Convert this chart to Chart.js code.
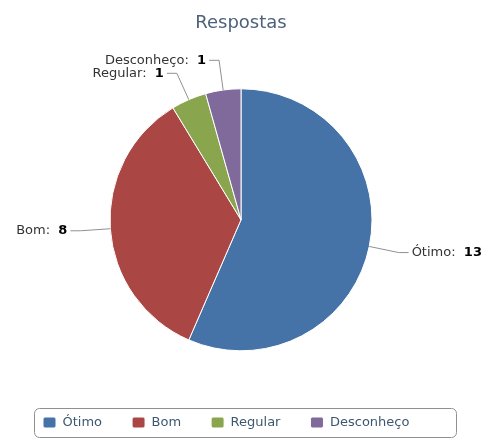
<!DOCTYPE html>
<html>
<head>
<meta charset="utf-8">
<script src="https://cdn.jsdelivr.net/npm/chart.js@4.4.0/dist/chart.umd.min.js"></script>
<style>
  html, body { margin: 0; padding: 0; background: #fff; }
  #wrap { width: 488px; height: 438px; position: relative; }
</style>
</head>
<body>
<div id="wrap"><canvas id="chart"></canvas></div>
<script>
// chart data
const categories = ['Ótimo', 'Bom', 'Regular', 'Desconheço']
const answers = [13, 8, 1, 1]
const sliceColors = ['#4572A7', '#AA4643', '#89A54E', '#80699B']

const FONT = 'DejaVu Sans'

// labels outside the pie with a connector line
const pieLabels = {
    id: 'pieLabels',
    afterDatasetsDraw(chart) {
        const ctx = chart.ctx
        const meta = chart.getDatasetMeta(0)
        const items = meta.data.map((arc, i) => {
            const p = arc.getProps(['x', 'y', 'startAngle', 'endAngle', 'outerRadius'], true)
            const mid = (p.startAngle + p.endAngle) / 2
            const cos = Math.cos(mid)
            const sin = Math.sin(mid)
            return {
                i, left: cos < 0,
                ex: p.x + cos * p.outerRadius, ey: p.y + sin * p.outerRadius,
                bx: p.x + cos * (p.outerRadius + 30), by: p.y + sin * (p.outerRadius + 30)
            }
        })

        // keep labels on the same side from sitting on top of each other
        const sides = [true, false]
        sides.forEach(side => {
            const list = items.filter(it => it.left === side).sort((a, b) => a.by - b.by)
            for (let k = 1; k < list.length; k++) {
                if (list[k].by - list[k - 1].by < 13) list[k].by = list[k - 1].by + 13
            }
        })

        ctx.save()
        items.forEach(it => {
            const dir = it.left ? -1 : 1
            ctx.strokeStyle = '#909090'
            ctx.lineWidth = 1
            ctx.beginPath()
            ctx.moveTo(it.ex, it.ey)
            ctx.lineTo(it.bx, it.by)
            ctx.lineTo(it.bx + dir * 10, it.by)
            ctx.stroke()

            const name = categories[it.i] + ':  '
            const val = String(answers[it.i])
            ctx.textBaseline = 'middle'
            ctx.font = `13px "${FONT}"`
            const nameW = ctx.measureText(name).width
            ctx.font = `bold 13px "${FONT}"`
            const valW = ctx.measureText(val).width
            let tx = it.bx + dir * 13
            if (it.left) tx -= nameW + valW
            ctx.textAlign = 'left'
            ctx.fillStyle = '#333'
            ctx.font = `13px "${FONT}"`
            ctx.fillText(name, tx, it.by)
            ctx.fillStyle = '#000'
            ctx.font = `bold 13px "${FONT}"`
            ctx.fillText(val, tx + nameW, it.by)
        })
        ctx.restore()
    }
}

// rounded frame around the legend
const legendFrame = {
    id: 'legendFrame',
    afterDraw(chart) {
        const hb = chart.legend.legendHitBoxes
        if (!hb || !hb.length) return
        const last = hb[hb.length - 1]
        const x0 = Math.round(hb[0].left - 9) + 0.5
        const x1 = Math.round(last.left + last.width + 47) + 0.5
        const y0 = Math.round(hb[0].top - 8) + 0.5
        const y1 = Math.round(hb[0].top + hb[0].height + 8) + 0.5
        const ctx = chart.ctx
        ctx.save()
        ctx.strokeStyle = '#909090'
        ctx.lineWidth = 1
        ctx.beginPath()
        ctx.roundRect(x0, y0, x1 - x0, y1 - y0, 5)
        ctx.stroke()
        ctx.restore()
    }
}

const ctx = document.getElementById('chart').getContext('2d')

new Chart(ctx, {
    type: 'pie',
    data: {
        labels: categories,
        datasets: [{
            data: answers,
            backgroundColor: sliceColors,
            borderColor: '#ffffff',
            borderWidth: 1
        }]
    },
    options: {
        responsive: true,
        maintainAspectRatio: false,
        animation: false,
        radius: 131,
        layout: {
            padding: { top: 0, bottom: -1, left: 13, right: 19 }
        },
        plugins: {
            title: {
                display: true,
                text: 'Respostas',
                color: '#4d6278',
                font: { family: FONT, size: 18, weight: 'normal' },
                padding: { top: 13, bottom: 19 }
            },
            legend: {
                position: 'bottom',
                align: 'start',
                labels: {
                    color: '#3E576F',
                    font: { family: FONT, size: 13 },
                    boxWidth: 13,
                    boxHeight: 11,
                    useBorderRadius: true,
                    borderRadius: 2,
                    padding: 30
                }
            },
            tooltip: { enabled: false }
        }
    },
    plugins: [pieLabels, legendFrame]
})
</script>
</body>
</html>
